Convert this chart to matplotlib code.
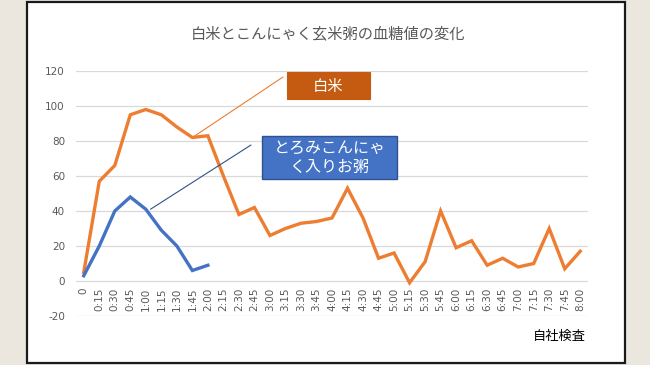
"""白米とこんにゃく玄米粥の血糖値の変化"""
import matplotlib
matplotlib.use('Agg')
from matplotlib import pyplot as plt
from matplotlib.patches import Rectangle

plt.rcParams['font.family'] = ['Noto Sans CJK JP', 'DejaVu Sans']
plt.rcParams['axes.unicode_minus'] = False

times = ['0', '0:15', '0:30', '0:45', '1:00', '1:15', '1:30', '1:45', '2:00',
         '2:15', '2:30', '2:45', '3:00', '3:15', '3:30', '3:45', '4:00',
         '4:15', '4:30', '4:45', '5:00', '5:15', '5:30', '5:45', '6:00',
         '6:15', '6:30', '6:45', '7:00', '7:15', '7:30', '7:45', '8:00']
white_rice = [5, 57, 66, 95, 98, 95, 88, 82, 83,
              60, 38, 42, 26, 30, 33, 34, 36,
              53, 36, 13, 16, -1, 11, 40, 19,
              23, 9, 13, 8, 10, 30, 7, 17]
konjac = [3, 20, 40, 48, 41, 29, 20, 6, 9]
yticks = [-20, 0, 20, 40, 60, 80, 100, 120]

W, H = 650, 365
fig = plt.figure(figsize=(W / 100, H / 100), dpi=100, facecolor='#ebe6de')

# white panel with dark frame
fig.patches.append(Rectangle((27 / W, 2 / H), 598 / W, 361 / H, transform=fig.transFigure,
                             facecolor='white', edgecolor='#1a1a1a', lw=1.6, zorder=-5))

ax = fig.add_axes([76 / W, 1 - 316 / H, 512 / W, 245 / H])
ax.set_zorder(1)
ax.set_facecolor('none')
for s in ax.spines.values():
    s.set_visible(False)
ax.spines['bottom'].set_position(('data', 0))

x = list(range(len(times)))
ax.plot(x, white_rice, color='#ED7D31', lw=2.4, solid_joinstyle='miter', zorder=3)
ax.plot(x[:len(konjac)], konjac, color='#4472C4', lw=2.4, solid_joinstyle='miter', zorder=3)

ax.set_xlim(-0.5, len(times) - 0.5)
ax.set_ylim(-20, 120)
ax.set_yticks(yticks)
ax.set_xticks(x)
ax.set_xticklabels(times, rotation=90, family='DejaVu Sans')
ax.tick_params(axis='both', length=0, labelsize=7.5, colors='#595959')
ax.tick_params(axis='x', pad=5)
ax.tick_params(axis='y', pad=8)
for lab in ax.get_yticklabels():
    lab.set_family('DejaVu Sans')
ax.grid(axis='y', color='#d9d9d9', lw=0.9)
ax.set_axisbelow(True)

fig.text(328 / W, 1 - 34 / H, '白米とこんにゃく玄米粥の血糖値の変化', ha='center', va='center',
         fontsize=11, color='#595959')

# callouts
ax.annotate('', xy=(7, 82), xytext=(283, H - 77), textcoords='figure pixels',
            arrowprops=dict(arrowstyle='-', color='#ED7D31', lw=0.8, shrinkA=0, shrinkB=0))
ax.annotate('', xy=(4.3, 41), xytext=(251, H - 145), textcoords='figure pixels',
            arrowprops=dict(arrowstyle='-', color='#2F528F', lw=0.8, shrinkA=0, shrinkB=0))

fig.patches.append(Rectangle((287 / W, 1 - 99 / H), 83 / W, 27 / H, transform=fig.transFigure,
                             facecolor='#C55A11', edgecolor='#C55A11', lw=0.8, zorder=4))
fig.text(328.5 / W, 1 - 86 / H, '白米', ha='center', va='center', fontsize=11,
         color='white', zorder=5)

fig.patches.append(Rectangle((262 / W, 1 - 179 / H), 135 / W, 43 / H, transform=fig.transFigure,
                             facecolor='#4472C4', edgecolor='#2F528F', lw=1.0, zorder=4))
fig.text(329.5 / W, 1 - 157.5 / H, 'とろみこんにゃ\nく入りお粥', ha='center', va='center',
         fontsize=11.5, color='white', linespacing=1.15, zorder=5)

fig.text(586 / W, 1 - 336 / H, '自社検査', ha='right', va='center', fontsize=9.5,
         color='black')

fig.savefig('out.png', dpi=100, facecolor=fig.get_facecolor())
